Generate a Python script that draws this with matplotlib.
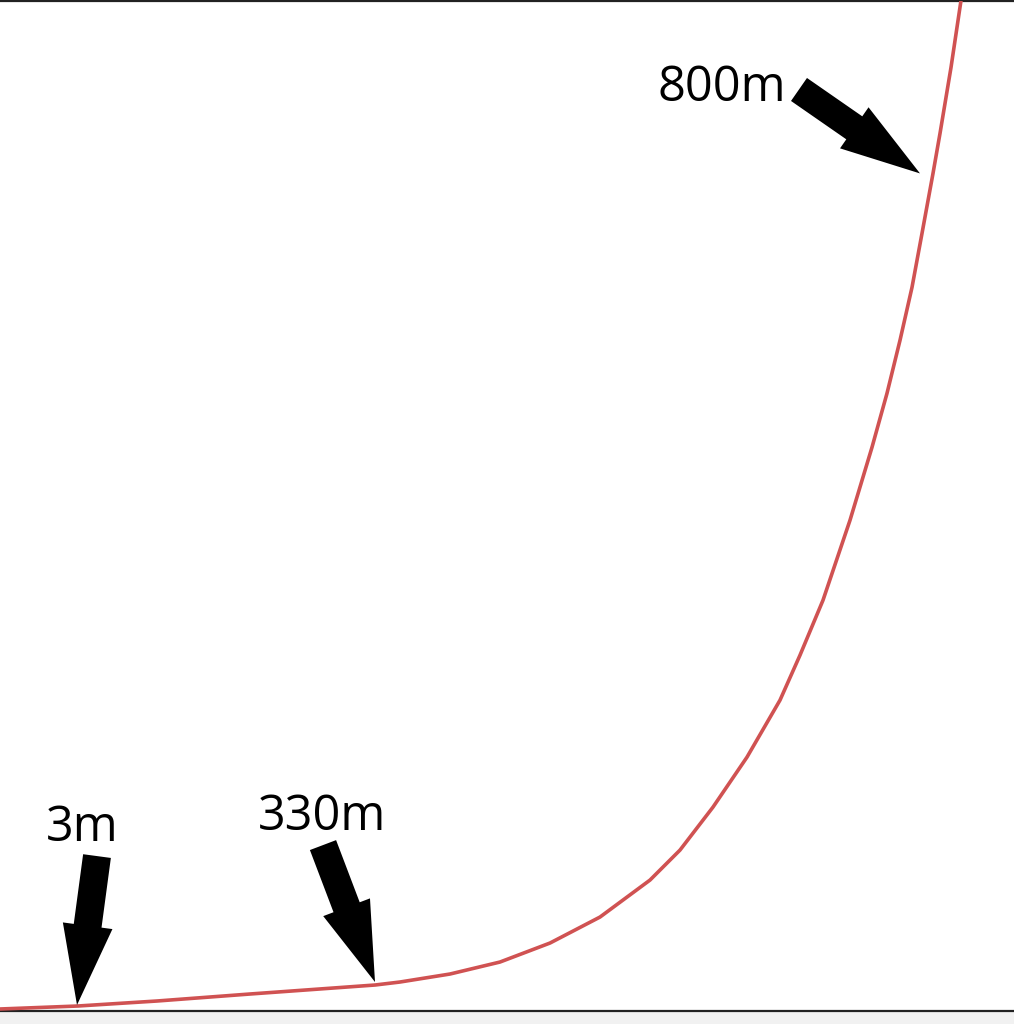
import matplotlib
matplotlib.use("Agg")
import matplotlib.pyplot as plt
from matplotlib.patches import FancyArrow

# Curve samples (x, height)
curve_x = [0, 78, 157, 250, 375, 400, 450, 500, 550, 600, 650, 680, 713, 747,
           780, 800, 823, 850, 872, 887, 900, 912, 922, 933, 940, 951, 961]
curve_y = [2, 5, 10, 17, 26, 29, 37, 49, 68, 94, 131, 161, 204, 254,
           311, 356, 411, 491, 564, 618, 671, 724, 778, 838, 878, 944, 1011]

# Annotations: label, label position, arrow tail, arrow tip
labels = ["3m", "330m", "800m"]
label_pos = [(82, 183), (322, 194), (722, 923)]
arrow_tail = [(97, 155), (323, 166), (799, 922)]
arrow_tip = [(77, 6), (375, 29), (920, 838)]

fig = plt.figure(figsize=(10.14, 10.24), dpi=100, facecolor="#f1f1f1")
ax = fig.add_axes([0, 13 / 1024, 1, 1011 / 1024 - 0.0005])
ax.set_facecolor("white")
ax.set_xlim(0, 1014)
ax.set_ylim(0, 1011)
for s in ["left", "right"]:
    ax.spines[s].set_visible(False)
for s in ["top", "bottom"]:
    ax.spines[s].set_color("#222222")
    ax.spines[s].set_linewidth(1.6)
ax.set_xticks([])
ax.set_yticks([])

ax.plot(curve_x, curve_y, color="#d05252", lw=2.6, solid_joinstyle="round",
        zorder=3)

for lab, lp, tail, tip in zip(labels, label_pos, arrow_tail, arrow_tip):
    dx = tip[0] - tail[0]
    dy = tip[1] - tail[1]
    ax.add_patch(FancyArrow(tail[0], tail[1], dx, dy, width=28, head_width=50,
                            head_length=80, length_includes_head=True,
                            color="black", lw=0, zorder=4))
    ax.text(lp[0], lp[1], lab, ha="center", va="center", fontsize=35,
            family="Open Sans", color="black", zorder=5)

fig.savefig("out.png", dpi=100, facecolor=fig.get_facecolor())
